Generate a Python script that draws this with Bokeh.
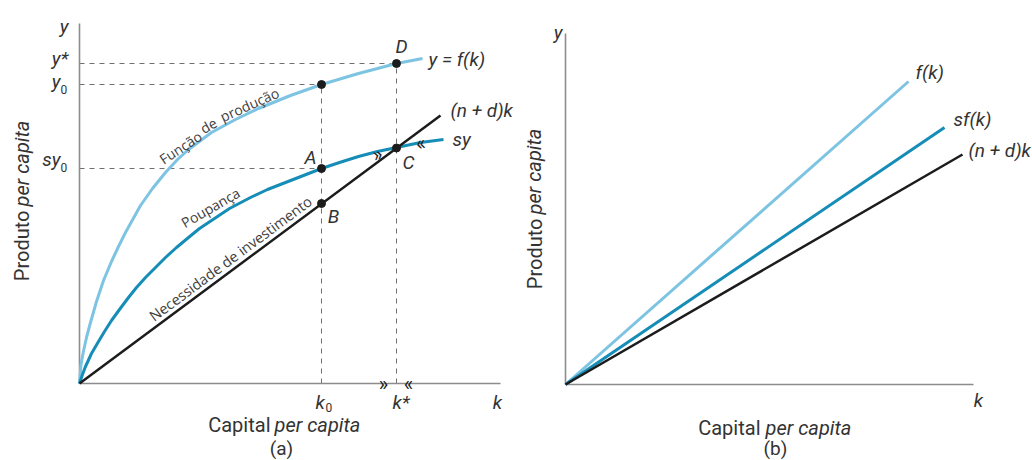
from bokeh.plotting import figure
from bokeh.layouts import row
from bokeh.core.properties import value
from bokeh.embed import file_html
from bokeh.resources import INLINE

# ---------------- data: panel (a) ----------------
k_f = [0, 0.15, 0.35, 0.7, 1.1, 1.7, 2.4, 3.2, 3.9, 4.6, 6.1, 7.3, 8.6, 9.8, 10.9, 13.2, 15.6, 17.9, 21.1, 24.2, 27.9, 31.7, 34.3]
y_f = [0, 1.9, 3.0, 4.6, 6.1, 8.2, 10.3, 12.2, 13.7, 15.1, 17.8, 19.5, 21.1, 22.4, 23.4, 25.1, 26.4, 27.5, 28.8, 29.9, 31.0, 32.0, 32.5]
k_s = [0, 0.3, 0.6, 1.2, 1.9, 2.5, 3.2, 4.0, 4.9, 5.7, 6.6, 7.6, 8.6, 9.7, 10.9, 12.0, 13.2, 15.0, 17.1, 18.8,
       20.6, 22.4, 24.2, 26.0, 27.9, 29.8, 31.7, 34.1, 36.4]
y_s = [0, 0.9, 1.7, 3.0, 4.2, 5.2, 6.3, 7.4, 8.6, 9.6, 10.6, 11.6, 12.6, 13.6, 14.6, 15.5, 16.3, 17.5, 18.6, 19.4,
       20.1, 20.8, 21.5, 22.1, 22.7, 23.2, 23.6, 24.1, 24.4]
k_inv = [0, 36.1]
y_inv = [0, 26.8]
k0, k_star = 24.2, 31.7
y0, y_star, sy0 = 29.9, 32.0, 21.5
y_B, y_C = 18.0, 23.55
a_kmax, a_ymax = 42.1, 36.0

# ---------------- data: panel (b) ----------------
b_f_end = (34.3, 30.3)
b_sf_end = (37.9, 25.7)
b_nd_end = (39.7, 23.0)
b_kmax, b_ymax = 40.8, 35.1

LIGHT = "#7dc4e2"
DARK = "#168db6"
BLACK = "#1c1c1c"
AXIS = "#8c8c8c"
DASH = "#707070"
TXT = "#333333"
FONT = "Roboto"
CFONT = "Open Sans"


def label(p, x, y, text, size="19px", style="italic", align="left",
          baseline="alphabetic", angle=0.0, font=FONT, color=TXT):
    p.text(x=[x], y=[y], text=[text], text_font=value(font),
           text_font_size=size, text_font_style=style, text_align=align,
           text_baseline=baseline, angle=angle, text_color=color)


def make_fig(xr, yr):
    p = figure(width=516, height=460, x_range=xr, y_range=yr,
               x_axis_type=None, y_axis_type=None, toolbar_location=None,
               output_backend="svg", min_border=0)
    p.outline_line_color = None
    p.grid.visible = False
    p.background_fill_color = "white"
    return p


# ================= panel (a) =================
pa = make_fig((-7.9, 43.7), (-7.7, 38.3))

# dashed guides
pa.segment(x0=[0, 0, 0, k0, k_star], y0=[y_star, y0, sy0, 0, 0],
           x1=[k_star, k0, k0, k0, k_star], y1=[y_star, y0, sy0, y0, y_star],
           line_color=DASH, line_width=1, line_dash="5 5")
# axes
pa.line(x=[0, 0, a_kmax], y=[a_ymax, 0, 0], line_color=AXIS, line_width=1.6)
# curves
pa.line(x=k_f, y=y_f, line_color=LIGHT, line_width=3)
pa.line(x=k_s, y=y_s, line_color=DARK, line_width=3)
pa.line(x=k_inv, y=y_inv, line_color=BLACK, line_width=2.5)
# points
pa.scatter(x=[k0, k0, k0, k_star, k_star], y=[y0, sy0, y_B, y_star, y_C],
           size=8, color=BLACK)

# arrows
label(pa, 30.4, -0.05, "»", size="20px", style="normal", align="center", baseline="middle", color=BLACK)
label(pa, 32.9, -0.05, "«", size="20px", style="normal", align="center", baseline="middle", color=BLACK)
label(pa, 29.8, 22.95, "»", size="20px", style="normal", align="center", baseline="middle", angle=0.24, color=BLACK)
label(pa, 34.1, 24.05, "«", size="20px", style="normal", align="center", baseline="middle", angle=0.15, color=BLACK)

# axis letters
label(pa, -1.1, 35.7, "y", align="right")
label(pa, -1.1, 32.5, "y*", align="right")
label(pa, -1.9, 30.2, "y", align="right")
label(pa, -1.9, 29.4, "0", size="12px", style="normal")
label(pa, -1.9, 22.4, "sy", align="right")
label(pa, -1.9, 21.6, "0", size="12px", style="normal")
label(pa, k0 - 0.6, -1.9, "k")
label(pa, k0 + 0.4, -2.4, "0", size="12px", style="normal")
label(pa, k_star - 0.4, -1.9, "k*")
label(pa, 41.8, -1.9, "k", align="center")

# point letters
label(pa, k_star + 0.5, 33.7, "D", align="center")
label(pa, k0 - 1.1, 22.6, "A", align="center")
label(pa, k_star + 1.2, 22.1, "C", align="center")
label(pa, k0 + 1.2, 16.7, "B", align="center")

# curve end labels
label(pa, 34.9, 32.4, "y = f(k)")
label(pa, 37.1, 27.3, "(n + d)k")
label(pa, 37.3, 24.4, "sy")

# curve annotations
label(pa, 10.1, 23.6, "Função", size="14px", style="normal", align="center", baseline="middle", angle=0.58, font=CFONT, color="#404040")
label(pa, 12.9, 25.8, "de", size="14px", style="normal", align="center", baseline="middle", angle=0.52, font=CFONT, color="#404040")
label(pa, 17.0, 27.9, "produção", size="14px", style="normal", align="center", baseline="middle", angle=0.42, font=CFONT, color="#404040")
label(pa, 13.1, 17.6, "Poupança", size="14px", style="normal", align="center", baseline="middle", angle=0.52, font=CFONT, color="#404040")
label(pa, 15.1, 12.5, "Necessidade de investimento", size="14.5px", style="normal", align="center", baseline="middle", angle=0.639, font=CFONT, color="#404040")

# axis titles
label(pa, 19.1, -4.1, "Capital", size="20px", style="normal", align="right")
label(pa, 19.5, -4.1, "per capita", size="20px", style="italic", align="left")
label(pa, 20.2, -6.45, "(a)", size="19px", style="normal", align="center")
label(pa, -5.75, 17.3, "Produto", size="20px", style="normal", align="right", angle=1.5708)
label(pa, -5.75, 17.7, "per capita", size="20px", style="italic", align="left", angle=1.5708)

# ================= panel (b) =================
pb = make_fig((-4.9, 46.7), (-7.6, 38.4))
pb.line(x=[0, 0, b_kmax], y=[b_ymax, 0, 0], line_color=AXIS, line_width=1.6)
pb.line(x=[0, b_f_end[0]], y=[0, b_f_end[1]], line_color=LIGHT, line_width=3)
pb.line(x=[0, b_sf_end[0]], y=[0, b_sf_end[1]], line_color=DARK, line_width=3)
pb.line(x=[0, b_nd_end[0]], y=[0, b_nd_end[1]], line_color=BLACK, line_width=2.5)

label(pb, -0.3, 35.2, "y", align="right")
label(pb, 41.3, -1.6, "k", align="center")
label(pb, b_f_end[0] + 0.7, b_f_end[1] + 0.9, "f(k)")
label(pb, b_sf_end[0] + 0.9, b_sf_end[1] + 0.8, "sf(k)")
label(pb, b_nd_end[0] + 0.6, b_nd_end[1] + 0.4, "(n + d)k")

label(pb, 19.5, -4.3, "Capital", size="20px", style="normal", align="right")
label(pb, 20.0, -4.3, "per capita", size="20px", style="italic", align="left")
label(pb, 21.0, -6.35, "(b)", size="19px", style="normal", align="center")
label(pb, -3.1, 16.6, "Produto", size="20px", style="normal", align="right", angle=1.5708)
label(pb, -3.1, 17.0, "per capita", size="20px", style="italic", align="left", angle=1.5708)

layout = row(pa, pb)
open("out.html", "w").write(file_html(layout, INLINE))
